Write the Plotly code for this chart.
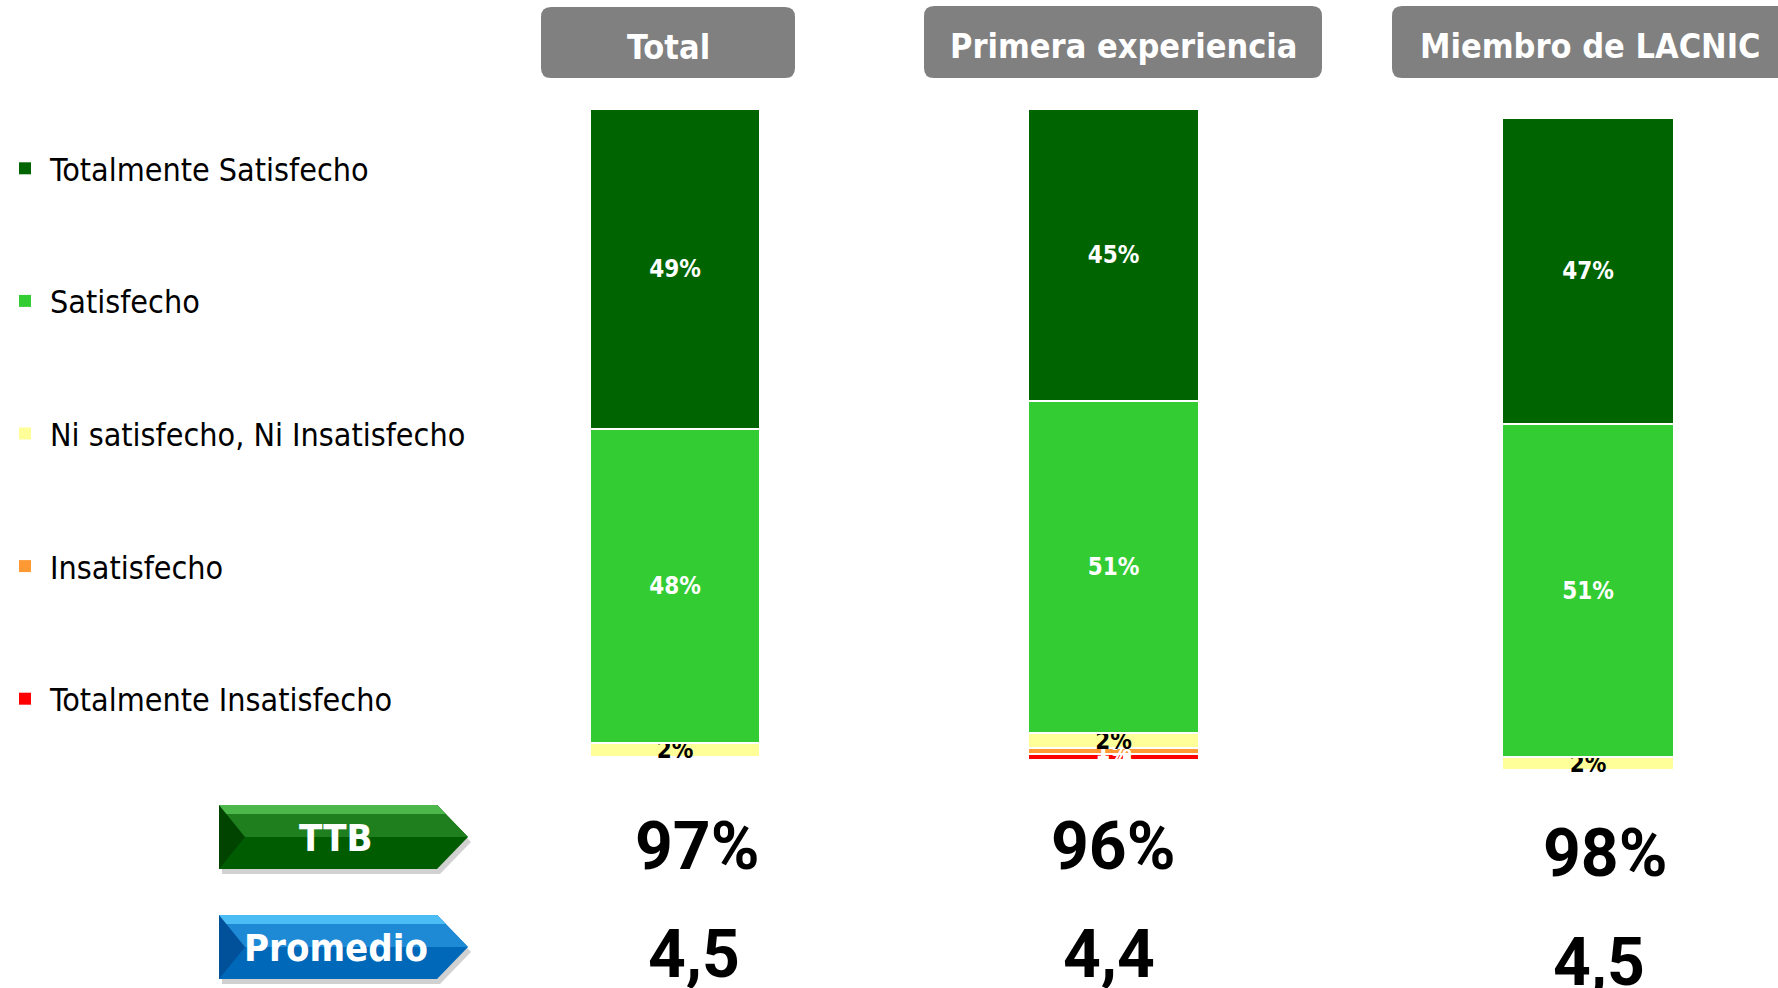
import plotly.graph_objects as go

W, H = 1778, 988

groups = ["Total", "Primera experiencia", "Miembro de LACNIC"]
levels = ["Totalmente Insatisfecho", "Insatisfecho", "Ni satisfecho, Ni Insatisfecho",
          "Satisfecho", "Totalmente Satisfecho"]
colors = ["#ff0000", "#ff9933", "#ffff99", "#33cc33", "#006400"]
label_colors = ["white", "white", "black", "white", "white"]

# % per level (bottom to top), one list per group
total_vals = [0, 0, 2.2, 48.4, 49.4]
primera_vals = [0.9, 0.9, 2.3, 51.0, 44.9]
miembro_vals = [0, 0, 2.0, 51.0, 47.0]
ns_vals = [0, 0.3, 0]  # thin sliver on top of the middle bar, not in legend
ttb = ["97%", "96%", "98%"]
promedio = ["4,5", "4,4", "4,5"]

values = [total_vals, primera_vals, miembro_vals]

# layout in pixels
bar_x = [(590, 760), (1028, 1199), (1502, 1674)]
bar_y = [(109, 757), (109, 760), (118, 770)]  # top, bottom
head_box = [(541, 795, 7, 78), (924, 1322, 6, 78), (1392, 1800, 6, 78)]
head_cx = [668, 1123, 1590]
ttb_pos = [(697, 846), (1113, 846), (1605, 853)]
prom_pos = [(694, 954), (1109, 954), (1599, 962)]

FONT = "DejaVu Sans Condensed, DejaVu Sans, sans-serif"
NUMFONT = "Roboto, DejaVu Sans Condensed, sans-serif"


def px(v):
    return v / W


def py(v):
    return 1 - v / H


def rrect(x0, x1, y0, y1, r=10):
    return (f"M{px(x0 + r)},{py(y0)} L{px(x1 - r)},{py(y0)} Q{px(x1)},{py(y0)} {px(x1)},{py(y0 + r)} "
            f"L{px(x1)},{py(y1 - r)} Q{px(x1)},{py(y1)} {px(x1 - r)},{py(y1)} "
            f"L{px(x0 + r)},{py(y1)} Q{px(x0)},{py(y1)} {px(x0)},{py(y1 - r)} "
            f"L{px(x0)},{py(y0 + r)} Q{px(x0)},{py(y0)} {px(x0 + r)},{py(y0)} Z")


def poly(pts):
    return "M" + " L".join(f"{px(a)},{py(b)}" for a, b in pts) + " Z"


fig = go.Figure()

for g, name in enumerate(groups):
    ax = "" if g == 0 else str(g + 1)
    for i, lev in enumerate(levels):
        v = values[g][i]
        fig.add_trace(go.Bar(
            x=[name], y=[v],
            name=lev,
            showlegend=False,
            marker=dict(color=colors[i], line=dict(color="white", width=2)),
            text=[f"{v:.0f}%" if v > 0 else ""],
            textposition="inside",
            insidetextanchor="middle",
            constraintext="none",
            textangle=0,
            cliponaxis=False,
            textfont=dict(family=FONT, size=24, color=label_colors[i], weight="bold"),
            width=1,
            xaxis="x" + ax, yaxis="y" + ax,
            hoverinfo="skip",
        ))
    fig.add_trace(go.Bar(
        x=[name], y=[ns_vals[g]], name="NS/NR", showlegend=False,
        marker=dict(color="#8faadc", line=dict(width=0)), width=1,
        xaxis="x" + ax, yaxis="y" + ax, hoverinfo="skip",
    ))

# legend entries (square markers), top to bottom
for i in range(len(levels) - 1, -1, -1):
    fig.add_trace(go.Scatter(
        x=[None], y=[None], mode="markers", name=levels[i],
        legendgroup=levels[i],
        marker=dict(symbol="square", size=12, color=colors[i]),
        hoverinfo="skip",
    ))

layout_axes = {}
for g in range(3):
    ax = "" if g == 0 else str(g + 1)
    x0, x1 = bar_x[g]
    top, bot = bar_y[g]
    layout_axes["xaxis" + ax] = dict(domain=[px(x0), px(x1)], range=[-0.5, 0.5], visible=False,
                                     anchor="y" + ax, fixedrange=True, type="category")
    layout_axes["yaxis" + ax] = dict(domain=[py(bot), py(top)], range=[0, 100], visible=False,
                                     anchor="x" + ax, fixedrange=True)

shapes = []
annotations = []

# header boxes
for g in range(3):
    x0, x1, y0, y1 = head_box[g]
    shapes.append(dict(type="path", path=rrect(x0, x1, y0, y1), xref="paper", yref="paper",
                       fillcolor="#808080", line=dict(width=0)))
    annotations.append(dict(x=px(head_cx[g]), y=py((y0 + y1) / 2 + 4), xref="paper", yref="paper",
                            text=groups[g], showarrow=False, xanchor="center", yanchor="middle",
                            font=dict(family=FONT, size=34, color="white", weight="bold")))


# arrow badges
def arrow(y0, y1, base, mid, light, dark, label):
    x0, xb, xt = 219, 437, 468
    ym = (y0 + y1) / 2
    shapes.append(dict(type="path", path=poly([(x0 + 3, y0 + 5), (xb + 3, y0 + 5), (xt + 3, ym + 5),
                                               (xb + 3, y1 + 5), (x0 + 3, y1 + 5)]),
                       xref="paper", yref="paper", fillcolor="rgba(0,0,0,0.18)", line=dict(width=0)))
    shapes.append(dict(type="path", path=poly([(x0, y0), (xb, y0), (xt, ym), (xb, y1), (x0, y1)]),
                       xref="paper", yref="paper", fillcolor=base, line=dict(width=0)))
    shapes.append(dict(type="path", path=poly([(x0, y0), (xb, y0), (xt, ym), (x0, ym)]),
                       xref="paper", yref="paper", fillcolor=mid, line=dict(width=0)))
    shapes.append(dict(type="path", path=poly([(x0, y0), (xb, y0), (xb + 9, y0 + 9), (x0, y0 + 9)]),
                       xref="paper", yref="paper", fillcolor=light, line=dict(width=0)))
    shapes.append(dict(type="path", path=poly([(x0, y0), (x0 + 26, ym), (x0, y1)]),
                       xref="paper", yref="paper", fillcolor=dark, line=dict(width=0)))
    annotations.append(dict(x=px(336), y=py(ym + 1), xref="paper", yref="paper", text=label,
                            showarrow=False, xanchor="center", yanchor="middle",
                            font=dict(family=FONT, size=38, color="white", weight="bold")))


arrow(805, 869, "#005c00", "#1f7f1f", "#4cb84c", "#004400", "TTB")
arrow(915, 979, "#0068b8", "#1e8ad6", "#4cbcf4", "#00509a", "Promedio")

for g in range(3):
    annotations.append(dict(x=px(ttb_pos[g][0]), y=py(ttb_pos[g][1]), xref="paper", yref="paper",
                            text=ttb[g], showarrow=False, xanchor="center", yanchor="middle",
                            font=dict(family=NUMFONT, size=66, color="black", weight="bold")))
    annotations.append(dict(x=px(prom_pos[g][0]), y=py(prom_pos[g][1]), xref="paper", yref="paper",
                            text=promedio[g], showarrow=False, xanchor="center", yanchor="middle",
                            font=dict(family=NUMFONT, size=66, color="black", weight="bold")))

fig.update_layout(
    width=W, height=H,
    margin=dict(l=0, r=0, t=0, b=0, autoexpand=False),
    paper_bgcolor="white", plot_bgcolor="white",
    barmode="stack",
    bargap=0,
    shapes=shapes,
    annotations=annotations,
    legend=dict(x=0, xanchor="left", y=py(141), yanchor="top",
                traceorder="grouped", tracegroupgap=88, itemwidth=40,
                font=dict(family=FONT, size=32, color="black"),
                bgcolor="rgba(0,0,0,0)", itemclick=False, itemdoubleclick=False),
    **layout_axes,
)

fig.write_html("out.html", post_script="document.body.style.margin='0';",
               config={"displayModeBar": False})
